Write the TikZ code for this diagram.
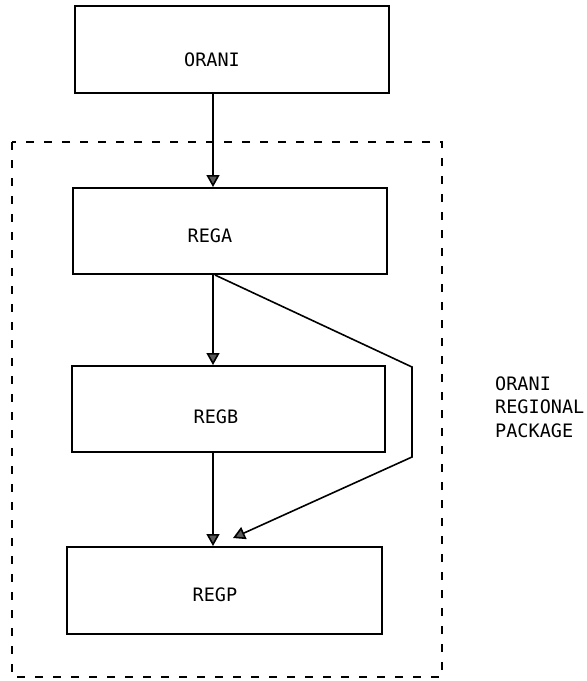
\documentclass[tikz,border=0pt]{standalone}
\usepackage{fontspec}
\setmonofont{DejaVu Sans Mono}
\usetikzlibrary{arrows.meta}
\begin{document}
\begin{tikzpicture}[x=1pt,y=-1pt,
  box/.style={draw, line width=2pt, rectangle, inner sep=0pt, minimum width=314pt, minimum height=87pt},
  txt/.style={font=\ttfamily\fontsize{18.5}{23.5}\selectfont},
  conn/.style={line width=1.6pt, -{Triangle[width=13pt,length=12pt,fill=black!65]}},
]
\useasboundingbox (0,0) rectangle (587,681);
% package frame
\draw[line width=1.8pt, dash pattern=on 8pt off 10pt] (12,142) rectangle (442,677);
% boxes
\node[box, label={[txt, xshift=-20pt, yshift=-10pt]center:ORANI}] (orani) at (232,49.5) {};
\node[box, minimum height=86pt, label={[txt, xshift=-20pt, yshift=-5pt]center:REGA}] (rega) at (230,231) {};
\node[box, minimum width=313pt, minimum height=86pt, label={[txt, xshift=-12.5pt, yshift=-8pt]center:REGB}] (regb) at (228.5,409) {};
\node[box, minimum width=315pt, label={[txt, xshift=-9.5pt, yshift=-4.5pt]center:REGP}] (regp) at (224.5,590.5) {};
% side label
\node[txt, anchor=west, align=left, inner sep=0pt] (lbl) at (495,407) {ORANI\\REGIONAL\\PACKAGE};
% connectors
\coordinate (ax) at (213,0);
\coordinate (ax2) at (215,0);
\coordinate (b1) at (412,367);
\coordinate (b2) at (412,457);
\coordinate (tip) at (233,538);
\draw[conn] (orani.south -| ax) -- (rega.north -| ax);
\draw[conn] (rega.south -| ax) -- (regb.north -| ax);
\draw[conn] (regb.south -| ax) -- (regp.north -| ax);
\draw[conn, line join=miter] (rega.south -| ax2) -- (b1) -- (b2) -- (tip);
\end{tikzpicture}
\end{document}
